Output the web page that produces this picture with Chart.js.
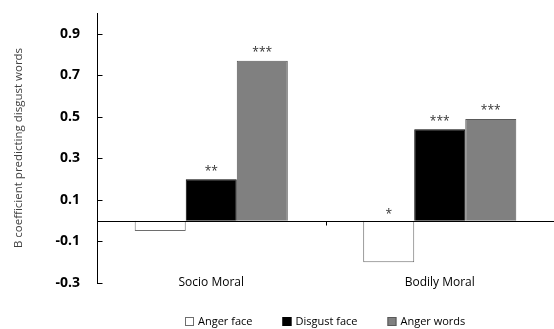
<!DOCTYPE html>
<html>
<head>
<meta charset="utf-8">
<script src="https://cdn.jsdelivr.net/npm/chart.js@4.4.1/dist/chart.umd.min.js"></script>
<style>
  html, body { margin: 0; padding: 0; background: #fff; }
  #wrap { width: 554px; height: 329px; position: relative; }
</style>
</head>
<body>
<div id="wrap"><canvas id="chart"></canvas></div>
<script>
const categories = ['Socio Moral', 'Bodily Moral'];
const seriesNames = ['Anger face', 'Disgust face', 'Anger words'];
const angerFace = [-0.05, -0.2];
const disgustFace = [0.2, 0.44];
const angerWords = [0.77, 0.49];
const stars = [['', '*'], ['**', '***'], ['***', '***']];
const yTicks = [-0.3, -0.1, 0.1, 0.3, 0.5, 0.7, 0.9];

const FONT = "'Open Sans', sans-serif";

const overlay = {
  id: 'overlay',
  afterDatasetsDraw(chart) {
    const { ctx, chartArea, scales } = chart;
    const y = scales.y;
    const x = scales.x;
    const zero = Math.round(y.getPixelForValue(0)) + 0.5;
    const left = Math.round(chartArea.left) + 0.5;
    ctx.save();
    ctx.strokeStyle = '#000';
    ctx.lineWidth = 1;

    // zero line
    ctx.beginPath();
    ctx.moveTo(left, zero);
    ctx.lineTo(chartArea.right, zero);
    ctx.stroke();

    // inward ticks on y axis
    yTicks.forEach((v) => {
      const py = Math.round(y.getPixelForValue(v)) + 0.5;
      ctx.beginPath();
      ctx.moveTo(left, py);
      ctx.lineTo(left + 5, py);
      ctx.stroke();
    });

    // category divider tick
    const mid = Math.round((x.getPixelForValue(0) + x.getPixelForValue(1)) / 2) + 0.5;
    ctx.beginPath();
    ctx.moveTo(mid, zero);
    ctx.lineTo(mid, zero + 4);
    ctx.stroke();

    // category labels, sitting low beside the -0.3 tick
    ctx.fillStyle = '#000';
    ctx.font = '12px ' + FONT;
    ctx.textAlign = 'center';
    ctx.textBaseline = 'middle';
    categories.forEach((c, i) => {
      ctx.fillText(c, x.getPixelForValue(i), chartArea.bottom);
    });

    // significance stars
    ctx.fillStyle = '#333';
    ctx.font = '12px ' + FONT;
    chart.data.datasets.forEach((ds, di) => {
      chart.getDatasetMeta(di).data.forEach((bar, i) => {
        const s = stars[di][i];
        if (!s) return;
        const ty = ds.data[i] >= 0 ? bar.y - 8 : zero - 7;
        ctx.fillText(s, bar.x, ty);
      });
    });

    // legend
    ctx.font = '11px ' + FONT;
    ctx.textAlign = 'left';
    const box = 9, gapText = 4, gapItem = 30;
    const widths = seriesNames.map((n) => box + gapText + ctx.measureText(n).width);
    const total = widths.reduce((a, b) => a + b, 0) + gapItem * (widths.length - 1);
    let lx = Math.round((chartArea.left + chartArea.right - total) / 2);
    const ly = 322;
    chart.data.datasets.forEach((ds, di) => {
      ctx.fillStyle = ds.backgroundColor;
      ctx.fillRect(lx, ly - 5, box, box);
      ctx.strokeStyle = ds.borderColor;
      ctx.strokeRect(lx + 0.5, ly - 4.5, box - 1, box - 1);
      ctx.fillStyle = '#000';
      ctx.fillText(seriesNames[di], lx + box + gapText, ly);
      lx += widths[di] + gapItem;
    });
    ctx.restore();
  }
};

new Chart(document.getElementById('chart'), {
  type: 'bar',
  data: {
    labels: categories,
    datasets: [
      { label: seriesNames[0], data: angerFace, backgroundColor: '#ffffff', borderColor: '#6e6e6e', borderWidth: 1 },
      { label: seriesNames[1], data: disgustFace, backgroundColor: '#000000', borderColor: '#000000', borderWidth: 1 },
      { label: seriesNames[2], data: angerWords, backgroundColor: '#808080', borderColor: '#595959', borderWidth: 1 }
    ]
  },
  options: {
    responsive: true,
    maintainAspectRatio: false,
    animation: false,
    layout: { padding: { top: 13, right: 0, bottom: 0, left: 0 } },
    datasets: { bar: { categoryPercentage: 0.67, barPercentage: 1 } },
    plugins: {
      legend: { display: false },
      tooltip: { enabled: false }
    },
    scales: {
      x: {
        grid: { display: false },
        border: { display: false },
        ticks: { display: false },
        afterFit: (scale) => { scale.height = 46; scale.paddingLeft = 0; scale.paddingRight = 0; }
      },
      y: {
        min: -0.3,
        max: 1.0,
        afterBuildTicks: (scale) => { scale.ticks = yTicks.map((v) => ({ value: v })); },
        afterFit: (scale) => { scale.width = 97; scale.paddingTop = 0; scale.paddingBottom = 0; },
        grid: { display: false, drawTicks: false },
        border: { display: true, color: '#000', width: 1 },
        ticks: {
          color: '#000',
          padding: 17,
          font: { family: FONT, size: 14, weight: 'bold' },
          callback: (v) => Number(v).toFixed(1)
        },
        title: {
          display: true,
          text: 'B coefficient predicting disgust words',
          color: '#404040',
          font: { family: FONT, size: 11.5 },
          padding: { top: 12, bottom: 0 }
        }
      }
    }
  },
  plugins: [overlay]
});
</script>
</body>
</html>
